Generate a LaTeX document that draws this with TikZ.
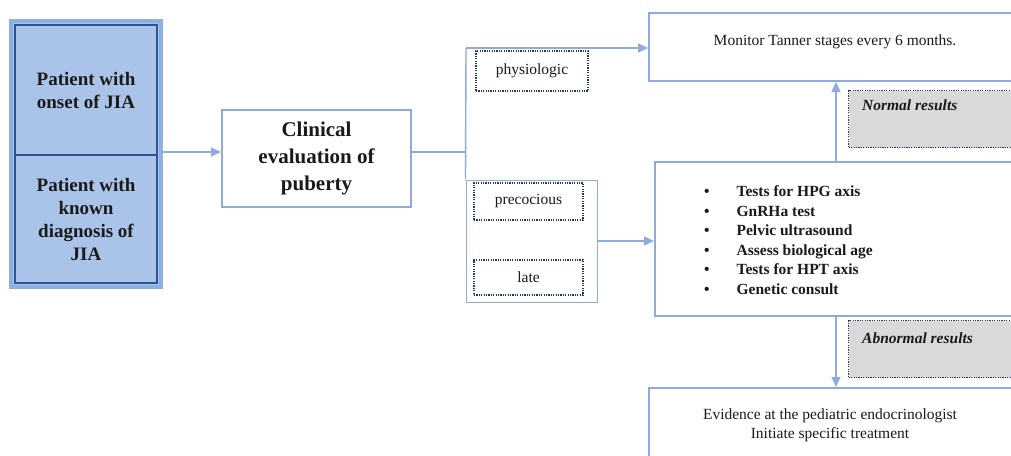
\documentclass[tikz,border=0pt]{standalone}
\usepackage{fontspec}
\setmainfont{Liberation Serif}
\usetikzlibrary{arrows.meta,positioning}
\definecolor{boxblue}{HTML}{8FAADC}
\definecolor{darkblue}{HTML}{2F5496}
\definecolor{fillblue}{HTML}{A9C4E8}
\definecolor{outerblue}{HTML}{8EB0E0}
\definecolor{navy}{HTML}{1F3864}
\definecolor{greyfill}{HTML}{D9D9D9}
\definecolor{txt}{HTML}{1A1A1A}
\tikzset{
  flowbox/.style={draw=boxblue, line width=2pt, fill=white, inner sep=0pt, text=txt},
  patbox/.style={draw=darkblue, line width=2pt, fill=fillblue, inner sep=0pt, text=txt, align=center,
     font=\fontsize{19}{23}\selectfont\bfseries},
  dotbox/.style={draw=navy, line width=1.4pt, dash pattern=on 1.2pt off 1.2pt, fill=white, inner sep=0pt, text=txt,
     font=\fontsize{15.5}{19}\selectfont},
  greybox/.style={draw=navy, line width=1.4pt, dash pattern=on 1.2pt off 1.2pt, fill=greyfill, inner sep=0pt},
  conn/.style={draw=boxblue, line width=1.4pt},
  arr/.style={conn, -{Triangle[length=10pt,width=9pt]}},
}
\begin{document}
\begin{tikzpicture}[x=1pt,y=-1pt]
\useasboundingbox (0,0) rectangle (1011,455);
\clip (0,0) rectangle (1011,455);
% left block
\node[draw=outerblue, line width=4pt, fill=fillblue, minimum width=150pt, minimum height=266pt, inner sep=0pt] (outer) at (86,154) {};
\node[patbox, minimum width=142pt, minimum height=130pt] (onset) at (86,90) {Patient with\\onset of JIA};
\node[patbox, minimum width=142pt, minimum height=128pt] (known) at (86,219) {Patient with\\known\\diagnosis of\\JIA};
% clinical
\node[flowbox, minimum width=189pt, minimum height=97pt, align=center,
  font=\fontsize{21}{27}\selectfont\bfseries] (clin) at (316.5,158) {Clinical\\evaluation of\\puberty};
% group of precocious / late
\node[draw=boxblue, line width=1pt, fill=white, minimum width=131pt, minimum height=122pt, inner sep=0pt] (grp) at (531.5,241) {};
\node[dotbox, minimum width=112pt, minimum height=40pt] (phys) at (532,71) {physiologic};
\node[dotbox, minimum width=109pt, minimum height=37pt] (prec) at (528.5,201.5) {precocious};
\node[dotbox, minimum width=109pt, minimum height=35pt] (late) at (528.5,277.5) {late};
% right boxes
\node[flowbox, minimum width=372pt, minimum height=68pt, anchor=north west] (mon) at (648,12) {};
\node[font=\fontsize{15.5}{19}\selectfont, text=txt, anchor=base] (montxt) at (835,45) {Monitor Tanner stages every 6 months.};
\node[flowbox, minimum width=366pt, minimum height=154pt, anchor=north west] (tests) at (654,161) {};
\node[anchor=north west, inner sep=0pt, text=txt, font=\fontsize{15.5}{19.5}\selectfont\bfseries] (list) at (704,183) {%
\begin{tabular}{@{}l@{\hspace{27pt}}l@{}}
\textbullet & Tests for HPG axis\\
\textbullet & GnRHa test\\
\textbullet & Pelvic ultrasound\\
\textbullet & Assess biological age\\
\textbullet & Tests for HPT axis\\
\textbullet & Genetic consult
\end{tabular}};
\node[flowbox, minimum width=372pt, minimum height=80pt, anchor=north west] (evid) at (648,387) {};
\node[text=txt, align=center, font=\fontsize{15.5}{19}\selectfont, anchor=north] (evidtxt) at (830,405) {Evidence at the pediatric endocrinologist\\Initiate specific treatment};
% grey result boxes
\node[greybox, minimum width=172pt, minimum height=57pt, anchor=north west] (norm) at (848,90) {};
\node[anchor=north west, inner sep=0pt, text=txt, font=\fontsize{15.5}{19}\selectfont\bfseries\itshape] (normtxt) at (862,100) {Normal results};
\node[greybox, minimum width=172pt, minimum height=57pt, anchor=north west] (abn) at (848,320) {};
\node[anchor=north west, inner sep=0pt, text=txt, font=\fontsize{15.5}{19}\selectfont\bfseries\itshape] (abntxt) at (862,333) {Abnormal results};
% connectors
\coordinate (junc) at (466,152);
\coordinate (topj) at (466,48);
\coordinate (vx) at (836,0);
\draw[arr] (outer.east |- junc) -- (clin.west |- junc);
\draw[conn] (clin.east |- junc) -- (junc);
\draw[conn] (grp.north west) -- (topj);
\draw[arr] (topj) -- (mon.west |- topj);
\draw[arr] (grp.east) -- (grp.east -| tests.west);
\draw[arr] (vx |- tests.north) -- (vx |- mon.south);
\draw[arr] (vx |- tests.south) -- (vx |- evid.north);
\end{tikzpicture}
\end{document}
